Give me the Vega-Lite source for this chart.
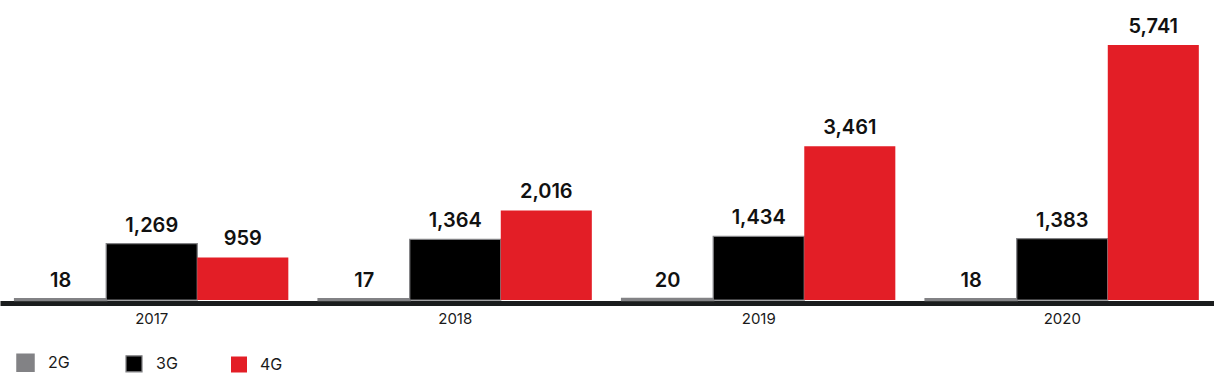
{
  "$schema": "https://vega.github.io/schema/vega-lite/v6.json",
  "width": 1214,
  "height": 300,
  "padding": {"top": 0, "left": 0, "right": 0, "bottom": 87},
  "autosize": {"type": "none"},
  "background": "white",
  "config": {"view": {"stroke": null}, "font": "Inter"},
  "data": {"values": [
    {"year": "2017", "tech": "2G", "value": 18},
    {"year": "2017", "tech": "3G", "value": 1269},
    {"year": "2017", "tech": "4G", "value": 959},
    {"year": "2018", "tech": "2G", "value": 17},
    {"year": "2018", "tech": "3G", "value": 1364},
    {"year": "2018", "tech": "4G", "value": 2016},
    {"year": "2019", "tech": "2G", "value": 20},
    {"year": "2019", "tech": "3G", "value": 1434},
    {"year": "2019", "tech": "4G", "value": 3461},
    {"year": "2020", "tech": "2G", "value": 18},
    {"year": "2020", "tech": "3G", "value": 1383},
    {"year": "2020", "tech": "4G", "value": 5741}
  ]},
  "encoding": {
    "x": {"field": "year", "type": "nominal", "title": null,
      "scale": {"paddingInner": 0.1, "paddingOuter": 0.05},
      "axis": {"labelAngle": 0, "ticks": false, "domainColor": "#1a1c1d", "domainWidth": 5, "offset": 3,
        "labelFontSize": 15, "labelColor": "#1a1a1a", "labelPadding": 8, "labelFont": "Inter"}},
    "xOffset": {"field": "tech", "type": "nominal", "sort": ["2G", "3G", "4G"], "scale": {"paddingInner": 0, "paddingOuter": 0}},
    "y": {"field": "value", "type": "quantitative", "scale": {"domain": [0, 6754]}, "axis": null}
  },
  "layer": [
    {"mark": {"type": "bar", "stroke": "#828285"},
     "encoding": {
       "strokeWidth": {"field": "tech", "type": "nominal", "scale": {"domain": ["2G", "3G", "4G"], "range": [2.5, 0, 0]}, "legend": null},
       "color": {"field": "tech", "type": "nominal", "title": null,
       "scale": {"domain": ["2G", "3G", "4G"], "range": ["#828285", "#000000", "#e31e26"]},
       "legend": {"orient": "none", "legendX": 16, "legendY": 353, "direction": "horizontal",
         "symbolType": "square", "symbolSize": 256, "symbolStrokeWidth": 0, "labelFontSize": 16, "labelOffset": 13,
         "columnPadding": 53, "labelColor": "#1a1a1a", "labelFont": "Inter"}}}},
    {"mark": {"type": "text", "baseline": "bottom", "dy": -8, "fontSize": 20, "fontWeight": 600, "color": "#111111", "font": "Inter"},
     "encoding": {"text": {"field": "value", "type": "quantitative", "format": ",d"}}}
  ]
}
